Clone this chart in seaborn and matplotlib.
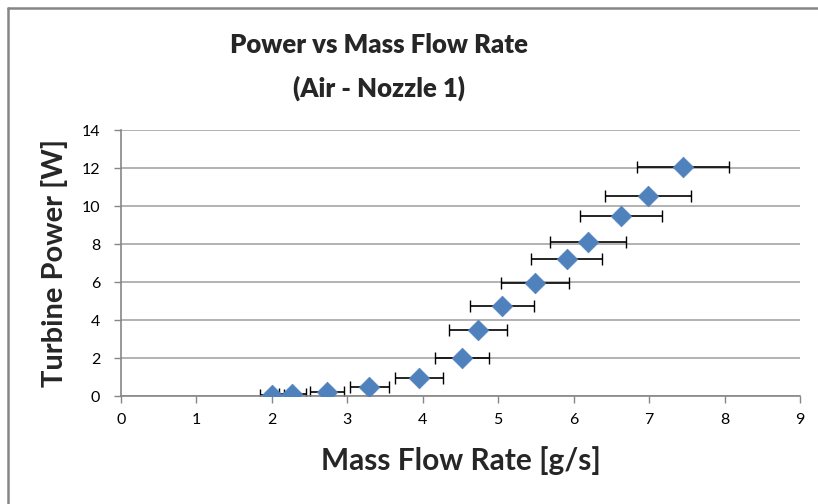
import numpy as np
import pandas as pd
import matplotlib
matplotlib.use("Agg")
import matplotlib.pyplot as plt
from matplotlib.lines import Line2D
import seaborn as sns

# Data
mass_flow = [2.00, 2.27, 2.73, 3.29, 3.95, 4.52, 4.73, 5.05, 5.49, 5.91, 6.19, 6.63, 6.99, 7.45]
power = [0.05, 0.10, 0.20, 0.50, 0.95, 2.00, 3.50, 4.75, 5.95, 7.20, 8.10, 9.50, 10.55, 12.05]
flow_err = [0.16, 0.18, 0.22, 0.26, 0.32, 0.36, 0.38, 0.42, 0.45, 0.47, 0.51, 0.54, 0.57, 0.61]
x_ticks = [0, 1, 2, 3, 4, 5, 6, 7, 8, 9]
y_ticks = [0, 2, 4, 6, 8, 10, 12, 14]

df = pd.DataFrame({"flow": mass_flow, "power": power, "err": flow_err})

sns.set_style("white")
plt.rcParams["font.family"] = ["Lato", "DejaVu Sans"]

fig = plt.figure(figsize=(8.18, 5.04), dpi=100)
ax = fig.add_axes([121 / 818, 1 - 396 / 504, (800 - 121) / 818, (396 - 130) / 504])

# Outer chart border (Excel style): only top and left edges are inside the image
bx, by = 8 / 818, 1 - 8 / 504
fig.add_artist(Line2D([bx, 1], [by, by], transform=fig.transFigure,
                      color="#868686", linewidth=1.8))
fig.add_artist(Line2D([bx, bx], [0, by], transform=fig.transFigure,
                      color="#868686", linewidth=1.8))

# Horizontal error bars
ax.errorbar(df["flow"], df["power"], xerr=df["err"], fmt="none",
            ecolor="black", elinewidth=1.2, capsize=4, capthick=1.0, zorder=2)

sns.scatterplot(data=df, x="flow", y="power", marker="D", s=110,
                color="#4F81BD", edgecolor="#4F81BD", linewidth=0.5, ax=ax, zorder=3)

ax.set_xlim(0, 9)
ax.set_ylim(0, 14)
ax.set_xticks(x_ticks)
ax.set_yticks(y_ticks)
ax.yaxis.grid(True, color="#A6A6A6", linewidth=1.2)
ax.set_axisbelow(True)

for side in ["top", "right"]:
    ax.spines[side].set_visible(False)
for side in ["left", "bottom"]:
    ax.spines[side].set_color("#868686")
    ax.spines[side].set_linewidth(1.2)

ax.tick_params(axis="both", labelsize=11.5, length=5,
               direction="out", color="#868686", width=1.0, labelcolor="black")
ax.tick_params(axis="x", bottom=True, pad=7)
ax.tick_params(axis="y", left=True, pad=10)

ax.set_xlabel("Mass Flow Rate [g/s]", fontsize=21.5, fontweight="bold", labelpad=14)
ax.set_ylabel("Turbine Power [W]", fontsize=21, fontweight="bold", labelpad=10)

fig.text(0.463, 1 - 45 / 504, "Power vs Mass Flow Rate", ha="center", va="center",
         fontsize=18.5, fontweight="heavy")
fig.text(0.463, 1 - 88 / 504, "(Air - Nozzle 1)", ha="center", va="center",
         fontsize=18.5, fontweight="heavy")

fig.savefig("out.png", dpi=100)
